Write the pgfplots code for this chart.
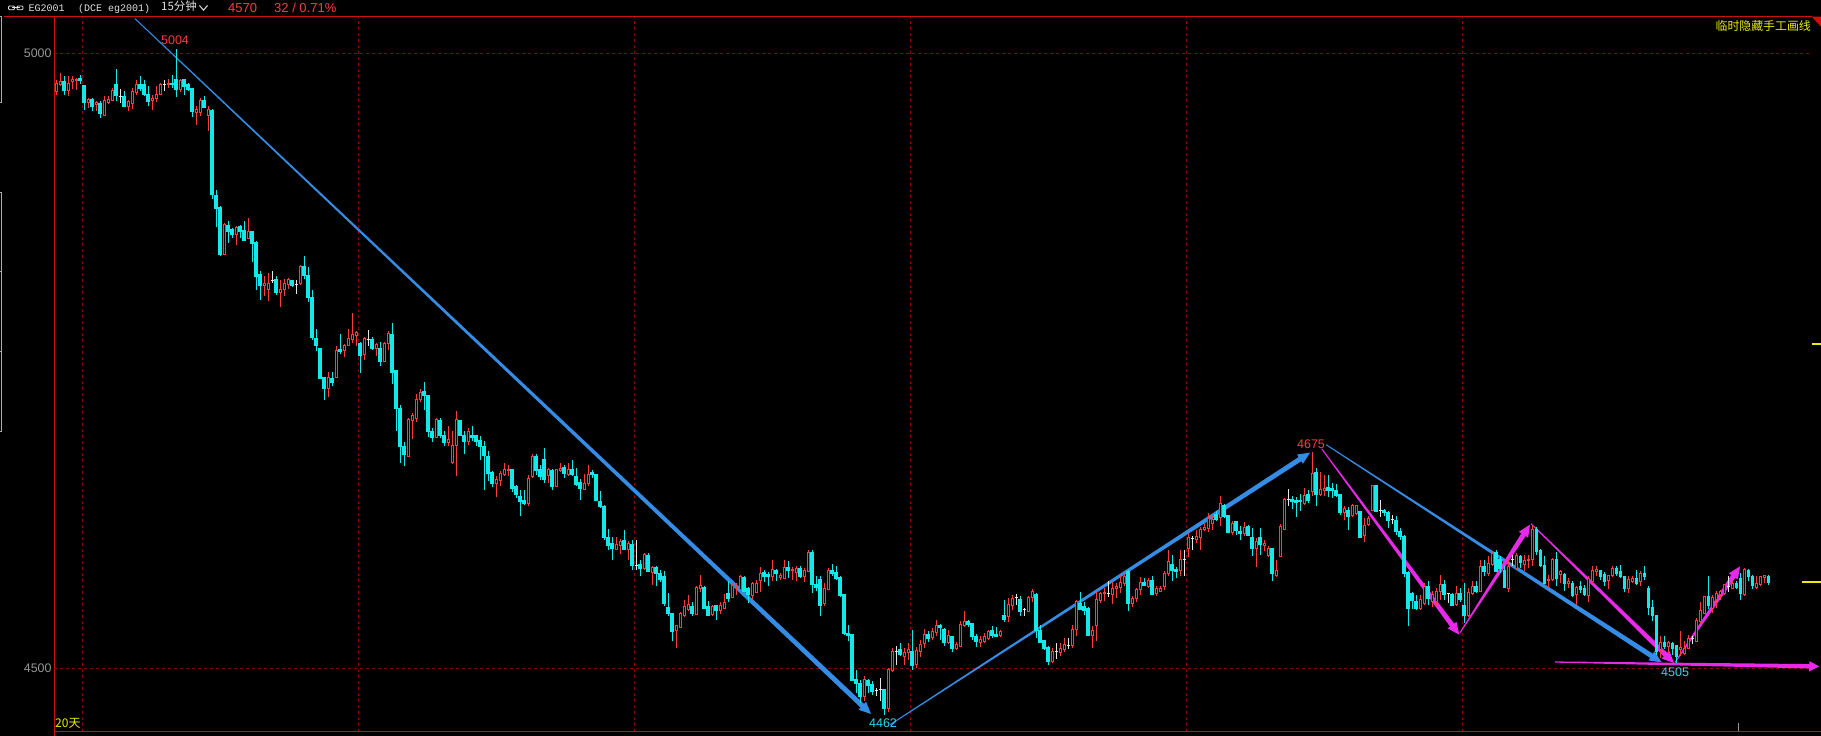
\documentclass[border=0pt]{standalone}
\usepackage{pgfplots}
\pgfplotsset{compat=1.18}
\usetikzlibrary{calc}
\usepackage{fontspec}
\setmainfont{Liberation Sans}
\newfontfamily\cjk{Noto Sans CJK SC}
\newfontfamily\mono{Liberation Mono}
\definecolor{upred}{RGB}{255,59,59}
\definecolor{dncyan}{RGB}{20,232,232}
\definecolor{dojiw}{RGB}{230,230,230}
\definecolor{axred}{RGB}{205,15,15}
\definecolor{gridred}{RGB}{145,0,0}
\definecolor{lblgrey}{RGB}{150,150,150}
\definecolor{hdrwhite}{RGB}{225,225,225}
\definecolor{ylw}{RGB}{235,235,0}
\definecolor{blu}{RGB}{52,140,228}
\definecolor{mag}{RGB}{232,42,232}
\definecolor{lblcyan}{RGB}{50,215,230}
\pgfdeclareplotmark{void}{}
\def\kk{1.22873}
\newcommand\candle{%
  \begingroup
  \pgfkeys{/pgf/fpu=false}%
  \pgfmathsetmacro\yh{(\vh-\vl)*\kk}%
  \pgfmathsetmacro\yo{(\vo-\vl)*\kk}%
  \pgfmathsetmacro\yc{(\vc-\vl)*\kk}%
  \ifdim\yc pt>\yo pt\relax
    \draw[upred,line width=0.9pt] (0pt,0pt) -- (0pt,\yo pt) (0pt,\yc pt) -- (0pt,\yh pt);
    \draw[upred,line width=0.8pt,fill=black] (-1.05pt,\yo pt) rectangle (1.05pt,\yc pt);
  \else
    \ifdim\yc pt<\yo pt\relax
      \draw[dncyan,line width=0.9pt] (0pt,0pt) -- (0pt,\yh pt);
      \fill[dncyan] (-1.35pt,\yc pt) rectangle (1.35pt,\yo pt);
    \else
      \draw[dojiw,line width=0.9pt] (0pt,0pt) -- (0pt,\yh pt) (-1.5pt,\yc pt) -- (1.5pt,\yc pt);
    \fi
  \fi
  \endgroup}
\newcommand\harrow[7]{%
  \coordinate (hA) at (axis cs:#2);
  \coordinate (hB) at (axis cs:#3);
  \coordinate (hC) at ($(hB)!#6!(hA)$);
  \fill[#1] ($(hA)!#4!90:(hB)$) -- ($(hC)!#5!-90:(hA)$) -- ($(hC)!#7!-90:(hA)$) -- (hB) -- ($(hC)!#7!90:(hA)$) -- ($(hC)!#5!90:(hA)$) -- ($(hA)!#4!-90:(hB)$) -- cycle;
}
\begin{document}
\begin{tikzpicture}
\path[use as bounding box, fill=black] (0pt,0pt) rectangle (1821pt,736pt);
\begin{axis}[
  at={(54.3pt,4.3pt)}, anchor=south west,
  scale only axis, width=1757.7pt, height=715pt,
  xmin=-0.425, xmax=439.0, ymin=4448.19, ymax=5030.1,
  clip=false,
  axis line style={draw=none},
  tick style={draw=none},
  xtick={6.58,75.6,144.6,213.6,282.7,351.7},
  xticklabels={},
  ytick={4500,5000},
  yticklabels={4500,5000},
  yticklabel style={font=\fontsize{12.4}{14}\selectfont, text=lblgrey, inner sep=0pt, xshift=-2.6pt},
  grid=major,
  major grid style={draw=gridred, line width=0.9pt, dash pattern=on 3pt off 3pt},
]
\addplot[scatter, only marks, mark=void,
  scatter/@pre marker code/.code={\candle},
  scatter/@post marker code/.code={},
  visualization depends on={value \thisrow{O}\as\vo},
  visualization depends on={value \thisrow{H}\as\vh},
  visualization depends on={value \thisrow{L}\as\vl},
  visualization depends on={value \thisrow{C}\as\vc},
] table[x=i,y=L,row sep=\\] {
i O H L C\\
0 4969.4 4978.3 4966.7 4975.6\\
1 4975.4 4984.3 4973.4 4977.5\\
2 4978.0 4981.6 4966.7 4970.2\\
3 4970.2 4982.1 4965.3 4976.2\\
4 4977.5 4982.1 4971.3 4978.9\\
5 4978.3 4980.2 4970.7 4979.4\\
6 4980.2 4983.0 4975.6 4978.3\\
7 4974.0 4974.0 4953.9 4960.4\\
8 4960.7 4964.0 4955.8 4962.6\\
9 4962.6 4964.0 4953.1 4957.2\\
10 4958.5 4961.2 4953.1 4960.7\\
11 4959.9 4961.2 4947.7 4951.2\\
12 4949.9 4965.3 4949.9 4962.1\\
13 4960.4 4965.3 4959.3 4962.6\\
14 4962.1 4972.1 4961.2 4969.9\\
15 4974.8 4987.8 4961.2 4965.9\\
16 4964.8 4971.3 4959.9 4964.8\\
17 4965.3 4969.4 4957.2 4957.2\\
18 4957.2 4962.6 4953.1 4961.2\\
19 4959.9 4972.1 4955.3 4969.4\\
20 4968.6 4978.9 4966.7 4974.8\\
21 4974.8 4982.1 4969.4 4972.1\\
22 4974.8 4978.9 4965.3 4966.7\\
23 4966.7 4974.0 4957.7 4961.2\\
24 4962.1 4966.7 4953.9 4963.5\\
25 4964.0 4974.0 4960.4 4966.7\\
26 4967.2 4976.2 4966.7 4975.4\\
27 4974.8 4978.9 4969.4 4974.8\\
28 4974.8 4979.4 4972.1 4976.2\\
29 4976.2 4983.0 4972.1 4974.8\\
30 4979.4 5004.0 4964.5 4970.7\\
31 4971.3 4979.4 4968.6 4978.3\\
32 4978.9 4979.4 4966.1 4973.4\\
33 4974.8 4976.2 4969.4 4971.3\\
34 4971.6 4972.1 4948.2 4953.1\\
35 4952.5 4957.2 4942.2 4954.4\\
36 4952.5 4964.0 4949.0 4962.1\\
37 4962.1 4965.3 4955.8 4956.4\\
38 4949.9 4957.2 4937.4 4954.4\\
39 4953.6 4955.0 4882.0 4885.3\\
40 4884.7 4888.8 4858.7 4873.9\\
41 4875.0 4875.8 4835.1 4837.2\\
42 4837.0 4862.2 4836.4 4861.4\\
43 4860.0 4863.5 4846.0 4855.4\\
44 4856.8 4858.1 4850.0 4852.7\\
45 4852.7 4860.0 4844.0 4858.9\\
46 4859.5 4860.3 4850.0 4855.4\\
47 4856.0 4863.5 4847.3 4848.1\\
48 4849.7 4866.3 4849.7 4855.4\\
49 4855.4 4856.0 4830.2 4845.4\\
50 4846.5 4847.3 4807.9 4818.8\\
51 4820.2 4822.9 4799.2 4811.2\\
52 4811.2 4819.3 4803.1 4813.4\\
53 4808.5 4821.5 4798.5 4813.4\\
54 4815.5 4822.9 4813.4 4815.5\\
55 4816.1 4819.3 4803.9 4805.8\\
56 4805.8 4816.1 4793.8 4808.5\\
57 4808.0 4816.6 4803.1 4813.4\\
58 4812.3 4817.4 4808.5 4816.1\\
59 4815.5 4816.1 4810.1 4811.2\\
60 4812.0 4815.5 4804.4 4812.0\\
61 4812.8 4828.3 4812.0 4826.9\\
62 4826.9 4835.6 4816.6 4820.1\\
63 4820.1 4826.4 4797.6 4801.7\\
64 4802.0 4808.0 4766.7 4769.1\\
65 4768.6 4775.9 4757.7 4762.6\\
66 4760.5 4760.5 4735.8 4735.8\\
67 4736.8 4736.8 4717.9 4727.6\\
68 4727.6 4740.9 4720.3 4736.8\\
69 4736.0 4740.9 4729.3 4732.5\\
70 4736.8 4761.8 4736.0 4758.3\\
71 4759.1 4772.1 4755.8 4757.7\\
72 4758.5 4764.0 4752.8 4762.3\\
73 4762.6 4776.2 4761.8 4768.6\\
74 4767.8 4788.9 4764.5 4771.3\\
75 4770.5 4774.0 4761.8 4773.2\\
76 4764.5 4765.1 4740.1 4755.0\\
77 4755.0 4769.4 4750.9 4768.6\\
78 4767.8 4775.4 4762.3 4767.8\\
79 4768.0 4769.1 4759.1 4760.2\\
80 4760.5 4764.5 4754.2 4763.2\\
81 4760.5 4765.1 4745.5 4749.6\\
82 4749.6 4765.1 4748.8 4764.5\\
83 4764.5 4774.0 4759.1 4772.1\\
84 4772.1 4780.8 4731.4 4740.6\\
85 4742.0 4742.0 4692.6 4711.3\\
86 4711.6 4714.1 4666.8 4680.4\\
87 4680.4 4683.7 4664.7 4673.9\\
88 4672.3 4703.5 4672.3 4702.1\\
89 4701.6 4707.6 4686.4 4705.4\\
90 4703.5 4723.3 4700.0 4719.0\\
91 4719.0 4727.1 4716.2 4724.6\\
92 4725.7 4732.8 4710.3 4721.9\\
93 4722.4 4722.4 4688.0 4692.6\\
94 4692.6 4695.3 4683.9 4688.0\\
95 4688.0 4703.5 4687.2 4702.1\\
96 4702.1 4703.5 4687.2 4689.9\\
97 4689.9 4692.6 4680.4 4683.7\\
98 4683.7 4696.7 4680.4 4685.8\\
99 4667.4 4693.2 4666.3 4681.0\\
100 4681.2 4709.4 4656.0 4702.1\\
101 4701.3 4702.1 4688.5 4689.4\\
102 4689.4 4692.6 4674.4 4684.5\\
103 4684.5 4695.3 4681.2 4692.6\\
104 4689.9 4696.7 4684.5 4687.7\\
105 4689.1 4689.9 4680.4 4685.0\\
106 4685.8 4689.1 4669.6 4680.9\\
107 4680.4 4685.0 4644.6 4673.6\\
108 4672.8 4676.3 4652.5 4658.7\\
109 4659.3 4660.1 4647.3 4650.6\\
110 4650.6 4656.5 4638.9 4653.3\\
111 4652.7 4660.1 4648.4 4658.7\\
112 4657.4 4666.8 4656.5 4661.9\\
113 4660.9 4665.5 4656.5 4662.0\\
114 4661.9 4661.9 4643.0 4646.5\\
115 4647.9 4649.2 4638.4 4641.6\\
116 4639.7 4645.1 4623.4 4635.6\\
117 4637.0 4645.1 4632.9 4634.3\\
118 4634.3 4657.4 4632.1 4654.6\\
119 4656.0 4674.4 4654.6 4672.3\\
120 4672.8 4674.4 4657.4 4660.9\\
121 4661.9 4665.5 4653.3 4656.0\\
122 4670.1 4679.0 4650.6 4653.3\\
123 4656.5 4662.8 4650.6 4661.4\\
124 4661.4 4661.9 4644.6 4647.9\\
125 4647.9 4661.4 4647.9 4661.4\\
126 4660.9 4666.8 4659.3 4662.8\\
127 4663.6 4665.5 4654.6 4658.7\\
128 4657.9 4666.8 4656.0 4661.9\\
129 4661.9 4669.0 4656.0 4657.4\\
130 4656.5 4662.8 4647.9 4649.8\\
131 4651.1 4653.8 4637.0 4646.5\\
132 4645.7 4657.9 4644.6 4650.6\\
133 4650.6 4665.5 4648.4 4657.9\\
134 4659.3 4661.4 4654.6 4657.4\\
135 4657.4 4657.4 4635.6 4637.0\\
136 4635.6 4643.8 4630.2 4631.6\\
137 4631.6 4632.9 4604.4 4606.6\\
138 4606.6 4613.1 4595.8 4599.6\\
139 4601.2 4606.6 4587.6 4597.7\\
140 4596.8 4606.6 4596.3 4600.4\\
141 4599.9 4605.0 4593.1 4603.1\\
142 4604.4 4612.6 4596.3 4597.1\\
143 4596.3 4603.1 4587.6 4601.2\\
144 4600.4 4604.4 4580.0 4583.6\\
145 4583.6 4604.4 4580.0 4583.6\\
146 4584.9 4588.2 4574.6 4581.4\\
147 4581.4 4593.6 4580.0 4592.2\\
148 4592.2 4593.6 4577.9 4578.7\\
149 4577.9 4583.3 4567.8 4582.2\\
150 4582.2 4583.3 4566.5 4576.8\\
151 4577.3 4580.0 4569.7 4572.4\\
152 4574.6 4578.7 4550.2 4552.9\\
153 4549.4 4561.0 4542.0 4544.8\\
154 4544.8 4544.8 4521.7 4529.8\\
155 4530.7 4535.3 4516.3 4534.5\\
156 4533.1 4545.3 4532.6 4544.2\\
157 4542.6 4555.6 4542.1 4550.2\\
158 4547.5 4559.7 4546.1 4551.5\\
159 4550.2 4553.4 4542.0 4544.8\\
160 4543.4 4566.5 4543.4 4565.9\\
161 4565.1 4576.0 4561.6 4567.0\\
162 4565.9 4566.5 4548.8 4548.8\\
163 4550.2 4554.2 4542.0 4543.4\\
164 4543.4 4551.5 4542.6 4550.2\\
165 4551.5 4551.5 4539.4 4546.9\\
166 4546.9 4553.4 4543.9 4550.7\\
167 4548.8 4560.5 4548.0 4553.4\\
168 4560.5 4570.5 4553.4 4557.0\\
169 4557.8 4569.2 4557.0 4567.0\\
170 4566.5 4569.2 4559.7 4567.5\\
171 4564.3 4576.0 4563.8 4574.6\\
172 4574.1 4574.6 4561.6 4562.4\\
173 4565.1 4565.9 4552.9 4559.7\\
174 4558.9 4569.7 4555.6 4568.6\\
175 4561.6 4571.9 4561.0 4568.6\\
176 4571.4 4582.2 4561.6 4577.3\\
177 4578.1 4580.0 4569.7 4574.6\\
178 4576.0 4577.9 4566.5 4574.6\\
179 4574.6 4587.6 4570.5 4580.0\\
180 4580.0 4580.6 4570.5 4577.3\\
181 4574.1 4577.3 4571.9 4575.2\\
182 4573.2 4588.2 4572.4 4582.2\\
183 4582.2 4587.4 4573.2 4579.5\\
184 4579.5 4582.2 4571.9 4580.6\\
185 4577.9 4583.3 4570.5 4581.4\\
186 4581.4 4583.3 4573.2 4574.6\\
187 4574.6 4581.4 4569.7 4579.5\\
188 4578.7 4596.3 4577.9 4594.1\\
189 4594.1 4595.8 4561.0 4568.6\\
190 4568.6 4574.6 4562.4 4565.9\\
191 4571.9 4574.6 4542.6 4551.5\\
192 4552.4 4569.2 4550.7 4565.1\\
193 4564.3 4581.4 4563.8 4579.5\\
194 4579.5 4584.9 4574.6 4577.3\\
195 4577.9 4583.3 4571.4 4573.2\\
196 4574.1 4574.6 4557.8 4558.9\\
197 4559.7 4559.7 4527.1 4528.5\\
198 4528.5 4535.3 4521.7 4527.1\\
199 4527.9 4527.9 4490.5 4490.5\\
200 4491.0 4498.6 4479.6 4487.8\\
201 4487.8 4490.5 4471.5 4476.9\\
202 4476.9 4493.2 4472.9 4490.5\\
203 4490.5 4491.0 4479.6 4486.4\\
204 4487.2 4489.1 4478.3 4481.0\\
205 4481.8 4483.7 4476.9 4481.8\\
206 4482.4 4491.9 4472.9 4482.4\\
207 4482.4 4482.4 4462.0 4467.4\\
208 4467.4 4500.0 4463.9 4498.6\\
209 4498.1 4516.3 4496.5 4513.6\\
210 4513.6 4517.6 4502.7 4513.6\\
211 4515.5 4520.3 4509.5 4510.9\\
212 4509.5 4516.3 4502.7 4512.7\\
213 4512.7 4520.3 4506.8 4515.5\\
214 4513.5 4531.2 4498.6 4502.7\\
215 4502.7 4517.1 4500.0 4514.4\\
216 4513.5 4523.0 4508.9 4519.0\\
217 4519.8 4531.7 4516.3 4527.1\\
218 4527.7 4529.8 4520.9 4524.4\\
219 4525.0 4532.5 4523.0 4529.8\\
220 4529.0 4539.3 4525.8 4534.5\\
221 4534.5 4536.1 4522.5 4533.1\\
222 4531.7 4532.5 4517.6 4520.9\\
223 4520.9 4530.6 4519.8 4526.3\\
224 4526.3 4526.3 4512.7 4516.3\\
225 4515.8 4520.9 4515.5 4519.0\\
226 4517.6 4538.0 4516.8 4535.3\\
227 4534.5 4546.6 4533.9 4538.0\\
228 4538.0 4539.3 4533.4 4535.3\\
229 4536.1 4536.6 4522.5 4526.3\\
230 4526.3 4527.9 4516.8 4521.7\\
231 4520.9 4526.3 4516.8 4523.0\\
232 4521.7 4528.5 4520.3 4525.8\\
233 4524.4 4531.2 4522.5 4529.8\\
234 4530.6 4534.5 4524.4 4527.1\\
235 4527.9 4533.4 4525.2 4526.3\\
236 4526.3 4531.2 4525.8 4529.8\\
237 4542.6 4555.6 4537.1 4539.9\\
238 4542.0 4557.0 4537.1 4551.5\\
239 4550.7 4559.7 4547.5 4556.9\\
240 4557.5 4560.5 4551.5 4557.5\\
241 4556.1 4558.3 4542.0 4546.1\\
242 4547.5 4548.8 4542.0 4547.5\\
243 4546.1 4558.3 4545.3 4557.5\\
244 4557.5 4564.3 4553.4 4562.4\\
245 4559.7 4561.0 4524.4 4531.2\\
246 4531.2 4535.3 4520.3 4520.9\\
247 4522.5 4523.0 4514.9 4516.3\\
248 4517.1 4518.2 4502.7 4505.4\\
249 4505.4 4516.3 4504.1 4513.5\\
250 4513.5 4520.3 4507.3 4513.5\\
251 4512.7 4520.3 4509.5 4516.3\\
252 4514.9 4524.4 4512.7 4519.0\\
253 4518.2 4524.4 4515.5 4518.2\\
254 4518.2 4535.3 4516.3 4531.2\\
255 4531.2 4555.6 4525.8 4554.2\\
256 4552.4 4561.6 4548.0 4548.0\\
257 4550.2 4553.4 4543.4 4546.9\\
258 4548.8 4549.6 4525.8 4527.1\\
259 4526.3 4533.9 4516.3 4530.6\\
260 4534.5 4562.4 4521.7 4556.1\\
261 4555.1 4561.6 4552.9 4561.0\\
262 4560.5 4565.1 4554.2 4561.6\\
263 4561.0 4570.5 4557.8 4561.0\\
264 4559.7 4569.7 4552.4 4565.1\\
265 4565.1 4569.2 4557.0 4566.5\\
266 4565.9 4575.1 4561.0 4569.7\\
267 4568.6 4576.8 4566.5 4574.6\\
268 4578.7 4579.5 4546.1 4552.4\\
269 4552.4 4558.3 4549.6 4556.9\\
270 4556.9 4565.1 4553.4 4564.3\\
271 4563.8 4574.1 4559.7 4569.7\\
272 4569.7 4573.2 4566.5 4567.8\\
273 4566.5 4573.2 4565.1 4571.4\\
274 4571.1 4574.6 4559.7 4559.7\\
275 4560.5 4566.5 4558.9 4565.1\\
276 4562.4 4566.5 4561.6 4565.1\\
277 4566.5 4578.7 4563.8 4577.3\\
278 4577.3 4595.8 4574.6 4586.8\\
279 4584.9 4592.2 4571.1 4579.5\\
280 4580.6 4582.2 4573.2 4578.7\\
281 4579.5 4595.8 4575.1 4588.7\\
282 4588.2 4595.8 4575.1 4588.2\\
283 4597.6 4609.9 4590.3 4606.6\\
284 4605.8 4607.1 4595.8 4605.8\\
285 4605.0 4612.6 4601.7 4607.1\\
286 4606.6 4614.7 4596.3 4612.6\\
287 4612.6 4618.0 4611.2 4614.5\\
288 4614.0 4626.1 4610.4 4622.0\\
289 4617.5 4624.8 4612.6 4621.3\\
290 4625.3 4627.5 4619.4 4621.3\\
291 4622.9 4640.3 4615.3 4634.3\\
292 4632.9 4633.7 4622.1 4623.4\\
293 4624.0 4624.8 4609.9 4610.4\\
294 4610.4 4619.4 4608.5 4618.0\\
295 4619.4 4619.4 4608.5 4612.0\\
296 4611.2 4615.3 4603.9 4609.9\\
297 4609.3 4618.5 4607.1 4614.7\\
298 4615.8 4616.6 4607.1 4608.5\\
299 4606.6 4613.9 4591.4 4597.6\\
300 4597.6 4605.8 4582.2 4603.1\\
301 4606.6 4613.9 4592.2 4600.4\\
302 4599.5 4603.9 4594.9 4601.7\\
303 4591.4 4599.0 4590.8 4597.6\\
304 4597.6 4597.6 4570.5 4576.8\\
305 4575.1 4588.2 4574.6 4579.2\\
306 4590.9 4617.5 4590.3 4615.3\\
307 4613.1 4638.4 4612.6 4637.5\\
308 4637.0 4645.7 4632.1 4637.0\\
309 4637.5 4640.3 4629.4 4635.6\\
310 4637.0 4639.2 4622.9 4634.8\\
311 4637.0 4641.9 4627.5 4635.6\\
312 4634.3 4646.5 4632.9 4640.3\\
313 4641.1 4645.1 4634.3 4636.5\\
314 4643.8 4675.5 4639.7 4658.7\\
315 4659.3 4662.8 4632.1 4641.1\\
316 4641.1 4659.3 4639.7 4645.7\\
317 4644.6 4657.4 4639.7 4646.5\\
318 4647.0 4657.4 4639.2 4645.1\\
319 4646.5 4650.6 4638.4 4644.6\\
320 4644.6 4650.0 4639.2 4640.3\\
321 4641.1 4641.9 4624.8 4626.7\\
322 4626.7 4632.1 4620.7 4630.2\\
323 4628.3 4631.0 4612.6 4623.4\\
324 4624.0 4633.7 4622.9 4632.1\\
325 4626.1 4632.9 4624.8 4632.1\\
326 4627.5 4627.5 4606.6 4606.6\\
327 4607.7 4622.1 4602.3 4615.8\\
328 4616.6 4624.0 4615.8 4622.1\\
329 4628.3 4649.2 4627.5 4648.4\\
330 4648.4 4649.2 4626.7 4627.5\\
331 4628.3 4637.0 4622.9 4628.3\\
332 4628.3 4629.4 4623.4 4626.7\\
333 4626.7 4627.5 4613.9 4620.2\\
334 4620.7 4624.8 4617.5 4620.7\\
335 4620.2 4623.4 4608.5 4611.2\\
336 4611.2 4613.9 4604.4 4607.1\\
337 4607.1 4608.5 4574.1 4576.8\\
338 4577.9 4578.7 4533.9 4548.8\\
339 4561.0 4561.6 4548.0 4555.6\\
340 4554.2 4559.7 4547.5 4548.8\\
341 4548.8 4559.7 4547.5 4555.6\\
342 4552.4 4569.2 4551.5 4566.5\\
343 4566.5 4570.5 4551.5 4557.0\\
344 4554.2 4562.4 4549.6 4559.7\\
345 4554.2 4565.1 4550.2 4562.4\\
346 4562.4 4575.9 4555.6 4567.8\\
347 4568.6 4571.9 4555.6 4559.7\\
348 4560.5 4561.0 4552.9 4560.5\\
349 4559.7 4561.0 4550.7 4551.5\\
350 4551.5 4567.0 4550.2 4561.0\\
351 4561.0 4565.1 4553.4 4556.1\\
352 4551.5 4569.2 4536.6 4542.6\\
353 4542.6 4565.1 4542.0 4561.6\\
354 4561.0 4570.5 4559.7 4566.5\\
355 4566.5 4570.5 4561.0 4562.4\\
356 4562.4 4588.2 4562.4 4582.7\\
357 4582.7 4587.6 4574.6 4578.7\\
358 4577.3 4590.9 4574.6 4584.9\\
359 4584.1 4595.0 4583.3 4593.6\\
360 4594.1 4595.8 4577.9 4578.7\\
361 4588.2 4590.9 4577.3 4581.4\\
362 4580.0 4582.7 4565.1 4565.9\\
363 4565.1 4588.2 4561.6 4582.7\\
364 4588.0 4591.7 4583.3 4588.0\\
365 4581.4 4593.6 4580.0 4591.4\\
366 4591.4 4592.2 4581.4 4586.0\\
367 4584.1 4592.2 4578.7 4587.6\\
368 4587.6 4592.2 4581.4 4588.7\\
369 4588.2 4616.6 4582.7 4612.6\\
370 4612.6 4614.7 4592.2 4595.0\\
371 4595.8 4596.8 4582.2 4583.3\\
372 4584.1 4590.9 4568.6 4569.2\\
373 4571.1 4575.9 4565.1 4571.9\\
374 4571.9 4589.5 4571.4 4588.7\\
375 4588.7 4594.1 4566.5 4573.2\\
376 4576.0 4580.0 4569.2 4578.7\\
377 4576.0 4577.3 4562.4 4569.2\\
378 4569.2 4573.2 4565.1 4570.5\\
379 4569.2 4570.5 4557.8 4558.9\\
380 4559.7 4567.0 4551.5 4565.9\\
381 4566.5 4570.5 4561.0 4564.3\\
382 4565.1 4567.8 4558.9 4559.7\\
383 4558.9 4574.6 4553.4 4573.2\\
384 4570.5 4582.7 4569.2 4579.5\\
385 4578.7 4582.7 4574.6 4580.0\\
386 4580.0 4580.0 4571.4 4575.1\\
387 4576.0 4577.9 4566.5 4570.5\\
388 4571.4 4575.9 4564.3 4575.1\\
389 4575.1 4582.7 4574.6 4581.4\\
390 4581.4 4582.7 4575.1 4577.3\\
391 4578.7 4584.1 4573.2 4574.6\\
392 4575.1 4575.1 4561.6 4565.1\\
393 4565.1 4574.6 4561.0 4572.4\\
394 4570.5 4575.1 4569.2 4573.2\\
395 4573.2 4580.0 4567.8 4569.2\\
396 4570.5 4578.7 4566.5 4577.3\\
397 4577.3 4582.7 4571.9 4574.6\\
398 4565.1 4566.5 4543.4 4549.6\\
399 4549.6 4555.6 4538.0 4543.4\\
400 4542.6 4542.6 4510.8 4513.5\\
401 4515.5 4526.3 4508.1 4520.9\\
402 4520.9 4525.8 4515.5 4517.6\\
403 4517.6 4521.7 4512.2 4520.9\\
404 4520.3 4520.9 4510.8 4516.3\\
405 4518.2 4519.0 4504.1 4509.5\\
406 4515.5 4529.8 4509.5 4517.1\\
407 4512.2 4521.7 4510.8 4516.3\\
408 4516.3 4527.1 4515.5 4524.4\\
409 4524.4 4526.3 4519.8 4524.4\\
410 4521.7 4540.7 4520.9 4538.8\\
411 4538.0 4553.4 4536.6 4546.9\\
412 4544.8 4558.9 4544.2 4558.3\\
413 4558.3 4574.6 4548.0 4551.5\\
414 4548.8 4559.7 4544.8 4557.8\\
415 4556.1 4562.4 4548.8 4561.0\\
416 4559.7 4563.8 4555.6 4562.4\\
417 4560.5 4568.6 4559.7 4567.8\\
418 4566.5 4575.1 4561.6 4566.5\\
419 4565.1 4570.5 4564.3 4569.2\\
420 4569.2 4570.5 4564.3 4565.9\\
421 4573.2 4577.3 4555.6 4561.0\\
422 4559.7 4581.4 4558.9 4580.0\\
423 4580.0 4580.6 4570.5 4574.6\\
424 4575.1 4575.9 4564.3 4567.8\\
425 4565.9 4575.1 4564.3 4568.6\\
426 4567.8 4575.1 4566.5 4574.6\\
427 4573.9 4576.0 4569.2 4575.1\\
428 4575.1 4576.0 4567.8 4570.0\\
};
\harrow{blu}{19.75,5028.5}{203.75,4462.6}{0.5pt}{2.5pt}{12pt}{5.5pt}
\harrow{blu}{208.5,4453.9}{313.5,4675.3}{0.5pt}{2.5pt}{12pt}{5.5pt}
\harrow{blu}{317.5,4681.8}{401.4,4504.6}{0.5pt}{2.5pt}{12pt}{5.5pt}
\harrow{mag}{316.4,4678.5}{350.8,4527.1}{0.5pt}{2.5pt}{12pt}{5.5pt}
\harrow{mag}{351,4528.8}{368.5,4616.7}{0.5pt}{2.5pt}{12pt}{5.5pt}
\harrow{mag}{368.75,4617.5}{404.5,4504.1}{0.5pt}{2.5pt}{12pt}{5.5pt}
\harrow{mag}{404.75,4504.6}{421,4582.7}{0.5pt}{2.5pt}{12pt}{5.5pt}
\harrow{mag}{374.75,4504.9}{440.8,4501.3}{0.6pt}{2.2pt}{10pt}{5.2pt}
\node[text=upred, inner sep=0pt, font=\fontsize{12.5}{14}\selectfont] at (axis cs:29.75,5011.0) {5004};
\node[text=lblcyan, inner sep=0pt, font=\fontsize{12.5}{14}\selectfont] at (axis cs:206.75,4455.1) {4462};
\node[text=upred, inner sep=0pt, font=\fontsize{12.5}{14}\selectfont] at (axis cs:313.75,4681.8) {4675};
\node[text=lblcyan, inner sep=0pt, font=\fontsize{12.5}{14}\selectfont] at (axis cs:404.75,4497.0) {4505};
\end{axis}
\begin{scope}[x=1pt,y=1pt]
\draw[axred, line width=1.3pt] (4,719.3) -- (1812,719.3);
\draw[axred, line width=1.3pt] (54.3,0) -- (54.3,719.3);
\draw[axred, line width=1.3pt] (54.3,4.3) -- (1821,4.3);
\fill[axred] (1811.7,719.3) -- (1821,719.3) -- (1821,709.3) -- cycle;
\draw[lblgrey!80, line width=0.9pt] (0,720) -- (1.5,720) -- (1.5,634) -- (0,634);
\draw[lblgrey!80, line width=0.9pt] (0,544) -- (1.5,544) -- (1.5,305) -- (0,305);
\draw[lblgrey!80, line width=0.9pt] (0,465) -- (1.5,465) (0,385) -- (1.5,385);
\draw[ylw, line width=1.2pt] (1812,392) -- (1821,392);
\draw[ylw, line width=1.2pt] (1802,154) -- (1821,154);
\draw[lblgrey, line width=0.9pt] (1738.3,5) -- (1738.3,13);
\draw[hdrwhite, line width=0.8pt, rounded corners=1pt] (8.5,726.3) rectangle (14.5,730);
\draw[hdrwhite, line width=0.8pt, rounded corners=1pt] (17,726.3) rectangle (23,730);
\draw[hdrwhite, line width=0.8pt] (12,728.2) -- (19.5,728.2);
\node[anchor=base west, inner sep=0pt, text=hdrwhite, font=\mono\fontsize{10}{12}\selectfont] at (28.5,724.3) {EG2001};
\node[anchor=base west, inner sep=0pt, text=hdrwhite, font=\mono\fontsize{10}{12}\selectfont] at (78,724.3) {(DCE eg2001)};
\node[anchor=base west, inner sep=0pt, text=hdrwhite, font=\cjk\fontsize{11.5}{13}\selectfont] at (161,725) {15分钟};
\draw[hdrwhite, line width=1pt] (199.5,730.5) -- (203.5,725.8) -- (207.5,730.5);
\node[anchor=base west, inner sep=0pt, text=upred, font=\fontsize{13}{15}\selectfont] at (228,723.5) {4570};
\node[anchor=base west, inner sep=0pt, text=upred, font=\fontsize{13}{15}\selectfont] at (274,723.5) {32 / 0.71\%};
\node[anchor=base east, inner sep=0pt, text=ylw, font=\cjk\fontsize{11.9}{13}\selectfont] at (1811,705.7) {临时隐藏手工画线};
\node[anchor=base west, inner sep=0pt, text=ylw, font=\cjk\fontsize{12}{13}\selectfont] at (55,8.3) {20天};
\end{scope}
\end{tikzpicture}
\end{document}
